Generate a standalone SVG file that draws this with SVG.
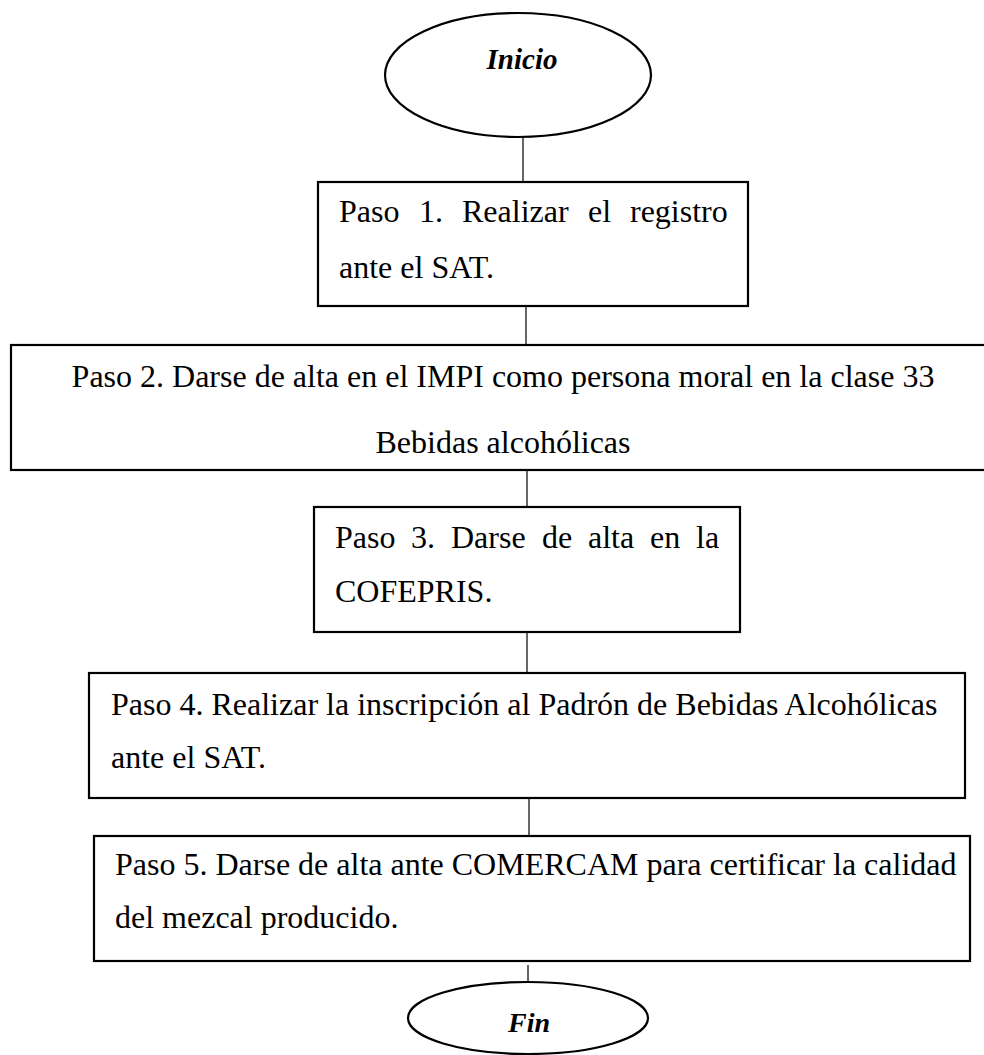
<svg xmlns="http://www.w3.org/2000/svg" width="984" height="1055" viewBox="0 0 984 1055">
<style>
.box{fill:#fff;stroke:#000;stroke-width:2.2}
.oval{fill:#fff;stroke:#000;stroke-width:2.2}
.t{font-family:"Liberation Serif","Times New Roman",serif;font-size:32px;fill:#000}
.ti{font-family:"Liberation Serif","Times New Roman",serif;font-size:29px;font-weight:bold;font-style:italic;fill:#000}
.c{stroke:#000;stroke-width:1.2;fill:none}
</style>
<rect width="984" height="1055" fill="#fff"/>
<g id="connectors">
<line class="c" x1="523" y1="137" x2="523" y2="182"/>
<line class="c" x1="526" y1="306" x2="526" y2="345"/>
<line class="c" x1="527" y1="470" x2="527" y2="507"/>
<line class="c" x1="527" y1="632" x2="527" y2="673"/>
<line class="c" x1="529" y1="798" x2="529" y2="836"/>
<line class="c" x1="528" y1="965" x2="528" y2="982"/>
</g>
<g id="inicio">
<ellipse class="oval" cx="518" cy="75" rx="133" ry="62"/>
<text class="ti" x="522" y="69" text-anchor="middle">Inicio</text>
</g>
<g id="paso1">
<rect class="box" x="318" y="182" width="430" height="124"/>
<text class="t" y="222"><tspan x="339">Paso</tspan><tspan x="419">1.</tspan><tspan x="462">Realizar</tspan><tspan x="588">el</tspan><tspan x="630">registro</tspan></text>
<text class="t" x="339" y="278">ante el SAT.</text>
</g>
<g id="paso2">
<rect class="box" x="11" y="345" width="986" height="125"/>
<text class="t" x="503" y="387" text-anchor="middle">Paso 2. Darse de alta en el IMPI como persona moral en la clase 33</text>
<text class="t" x="503" y="453" text-anchor="middle">Bebidas alcohólicas</text>
</g>
<g id="paso3">
<rect class="box" x="314" y="507" width="426" height="125"/>
<text class="t" y="548"><tspan x="335">Paso</tspan><tspan x="411">3.</tspan><tspan x="451">Darse</tspan><tspan x="542">de</tspan><tspan x="588">alta</tspan><tspan x="650">en</tspan><tspan x="696">la</tspan></text>
<text class="t" x="335" y="602">COFEPRIS.</text>
</g>
<g id="paso4">
<rect class="box" x="89" y="673" width="876" height="125"/>
<text class="t" x="111" y="715">Paso 4. Realizar la inscripción al Padrón de Bebidas Alcohólicas</text>
<text class="t" x="111" y="768">ante el SAT.</text>
</g>
<g id="paso5">
<rect class="box" x="94" y="836" width="876" height="125"/>
<text class="t" x="115" y="875">Paso 5. Darse de alta ante COMERCAM para certificar la calidad</text>
<text class="t" x="115" y="928">del mezcal producido.</text>
</g>
<g id="fin">
<ellipse class="oval" cx="528" cy="1018" rx="120" ry="36"/>
<text class="ti" x="529" y="1032" text-anchor="middle" style="font-size:28px">Fin</text>
</g>
</svg>
